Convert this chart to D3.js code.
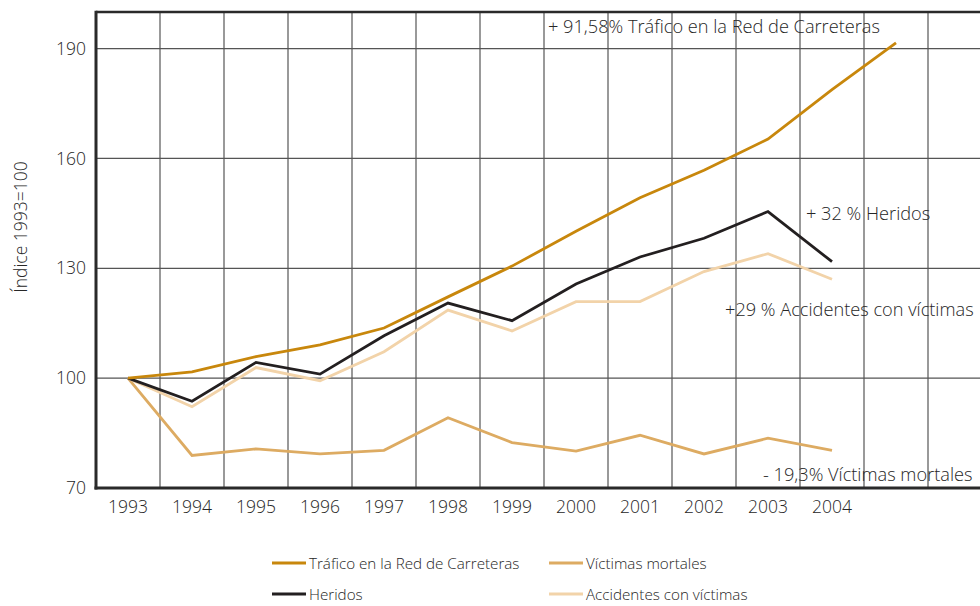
<!DOCTYPE html>
<html>
<head>
<meta charset="utf-8">
<script src="https://cdn.jsdelivr.net/npm/d3@7/dist/d3.min.js"></script>
<style>
  html, body { margin: 0; padding: 0; background: #fff; }
  svg { display: block; font-family: "Open Sans", "Noto Sans", sans-serif; font-weight: 300; }
</style>
</head>
<body>
<svg id="chart" width="980" height="606"></svg>
<script>
// ---- data ----
const years = [1993, 1994, 1995, 1996, 1997, 1998, 1999, 2000, 2001, 2002, 2003, 2004, 2005];
const bandYears = [1993, 1994, 1995, 1996, 1997, 1998, 1999, 2000, 2001, 2002, 2003, 2004, 2005, 2006];
const tickYears = [1993, 1994, 1995, 1996, 1997, 1998, 1999, 2000, 2001, 2002, 2003, 2004];
const yTicks = [70, 100, 130, 160, 190];

const trafico    = [100, 101.7, 105.9, 109.1, 113.7, 122.2, 130.6, 140.1, 149.3, 156.8, 165.3, 178.8, 191.58];
const heridos    = [100, 93.7, 104.3, 101.1, 111.6, 120.5, 115.7, 125.7, 133.1, 138.2, 145.5, 131.8];
const accidentes = [100, 92.2, 102.9, 99.3, 107.2, 118.6, 112.9, 120.9, 120.9, 129.1, 134.0, 127.0];
const victimas   = [100, 78.9, 80.7, 79.3, 80.3, 89.2, 82.4, 80.1, 84.4, 79.3, 83.6, 80.3];

const seriesNames = ["Tráfico en la Red de Carreteras", "Víctimas mortales", "Heridos", "Accidentes con víctimas"];
const annotations = [
  "+ 91,58% Tráfico en la Red de Carreteras",
  "+ 32 % Heridos",
  "+29 % Accidentes con víctimas",
  "- 19,3% Víctimas mortales"
];

(function () {
// ---- layout ----
const svg = d3.select("#chart");
const pLeft = 96, pTop = 12, pBottom = 488, pRight = 992;
const textColor = "#262626";
const colors = {
  trafico: "#c8870c",
  victimas: "#ddab62",
  heridos: "#231f20",
  accidentes: "#f2d3a9"
};

const x = d3.scaleBand().domain(bandYears).range([pLeft, pRight]).padding(0);
const xc = v => x(v) + x.bandwidth() / 2;
const y = d3.scaleLinear().domain([70, 200]).range([pBottom, pTop]);

// grid: vertical lines at band boundaries
const g = svg.append("g");
g.selectAll("line.vg").data(bandYears.slice(1)).join("line")
  .attr("class", "vg")
  .attr("x1", d => x(d)).attr("x2", d => x(d))
  .attr("y1", pTop).attr("y2", pBottom)
  .attr("stroke", "#555").attr("stroke-width", 1.2);
// horizontal grid
g.selectAll("line.hg").data(yTicks.slice(1)).join("line")
  .attr("class", "hg")
  .attr("x1", pLeft).attr("x2", pRight)
  .attr("y1", d => y(d)).attr("y2", d => y(d))
  .attr("stroke", "#555").attr("stroke-width", 1.2);

// top border
svg.append("line").attr("x1", pLeft).attr("x2", pRight).attr("y1", pTop).attr("y2", pTop)
  .attr("stroke", "#2a2a2a").attr("stroke-width", 2.5);

// y axis labels
const yAxis = d3.axisLeft(y).tickValues(yTicks).tickSize(0).tickPadding(10);
svg.append("g").attr("transform", `translate(${pLeft},0)`).call(yAxis)
  .call(s => s.select(".domain").remove())
  .call(s => s.selectAll("text").attr("font-size", 17.5).attr("fill", textColor)
    .attr("font-family", "Open Sans, Noto Sans, sans-serif").attr("font-weight", 300));

// x axis labels
const xAxis = d3.axisBottom(x).tickValues(tickYears).tickSize(0).tickPadding(13);
svg.append("g").attr("transform", `translate(0,${pBottom})`).call(xAxis)
  .call(s => s.select(".domain").remove())
  .call(s => s.selectAll("text").attr("font-size", 17.5).attr("fill", textColor)
    .attr("font-family", "Open Sans, Noto Sans, sans-serif").attr("font-weight", 300));

// y axis title
svg.append("text")
  .attr("transform", `translate(27,227) rotate(-90)`)
  .attr("text-anchor", "middle")
  .attr("font-size", 17.5).attr("fill", textColor)
  .text("Índice 1993=100");

// lines
const line = d3.line().x((d, i) => xc(years[i])).y(d => y(d));
const drawSeries = (data, color, w) => svg.append("path").datum(data)
  .attr("d", line).attr("fill", "none").attr("stroke", color)
  .attr("stroke-width", w).attr("stroke-linejoin", "miter");

drawSeries(victimas, colors.victimas, 2.8);
drawSeries(accidentes, colors.accidentes, 2.8);
drawSeries(heridos, colors.heridos, 2.8);
drawSeries(trafico, colors.trafico, 2.8);

// axes (left & bottom thick)
svg.append("line").attr("x1", pLeft).attr("x2", pLeft).attr("y1", pTop - 1.25).attr("y2", pBottom + 1.5)
  .attr("stroke", "#2a2a2a").attr("stroke-width", 3);
svg.append("line").attr("x1", pLeft - 1.5).attr("x2", pRight).attr("y1", pBottom).attr("y2", pBottom)
  .attr("stroke", "#2a2a2a").attr("stroke-width", 3);

// annotations
const annPos = [[548, 33], [806, 220], [725, 316], [763, 481]];
svg.selectAll("text.ann").data(annotations).join("text")
  .attr("class", "ann")
  .attr("x", (d, i) => annPos[i][0]).attr("y", (d, i) => annPos[i][1])
  .attr("font-size", 18.2).attr("fill", textColor)
  .text(d => d);

// legend
const legendItems = [
  { name: seriesNames[0], color: colors.trafico, lx: 272, ly: 563 },
  { name: seriesNames[1], color: colors.victimas, lx: 549, ly: 563 },
  { name: seriesNames[2], color: colors.heridos, lx: 272, ly: 594 },
  { name: seriesNames[3], color: colors.accidentes, lx: 549, ly: 594 }
];
const lg = svg.append("g");
legendItems.forEach(it => {
  lg.append("line").attr("x1", it.lx).attr("x2", it.lx + 34)
    .attr("y1", it.ly).attr("y2", it.ly)
    .attr("stroke", it.color).attr("stroke-width", 2.8);
  lg.append("text").attr("x", it.lx + 37).attr("y", it.ly + 6)
    .attr("font-size", 15.2).attr("fill", textColor).text(it.name);
});
})();
</script>
</body>
</html>
